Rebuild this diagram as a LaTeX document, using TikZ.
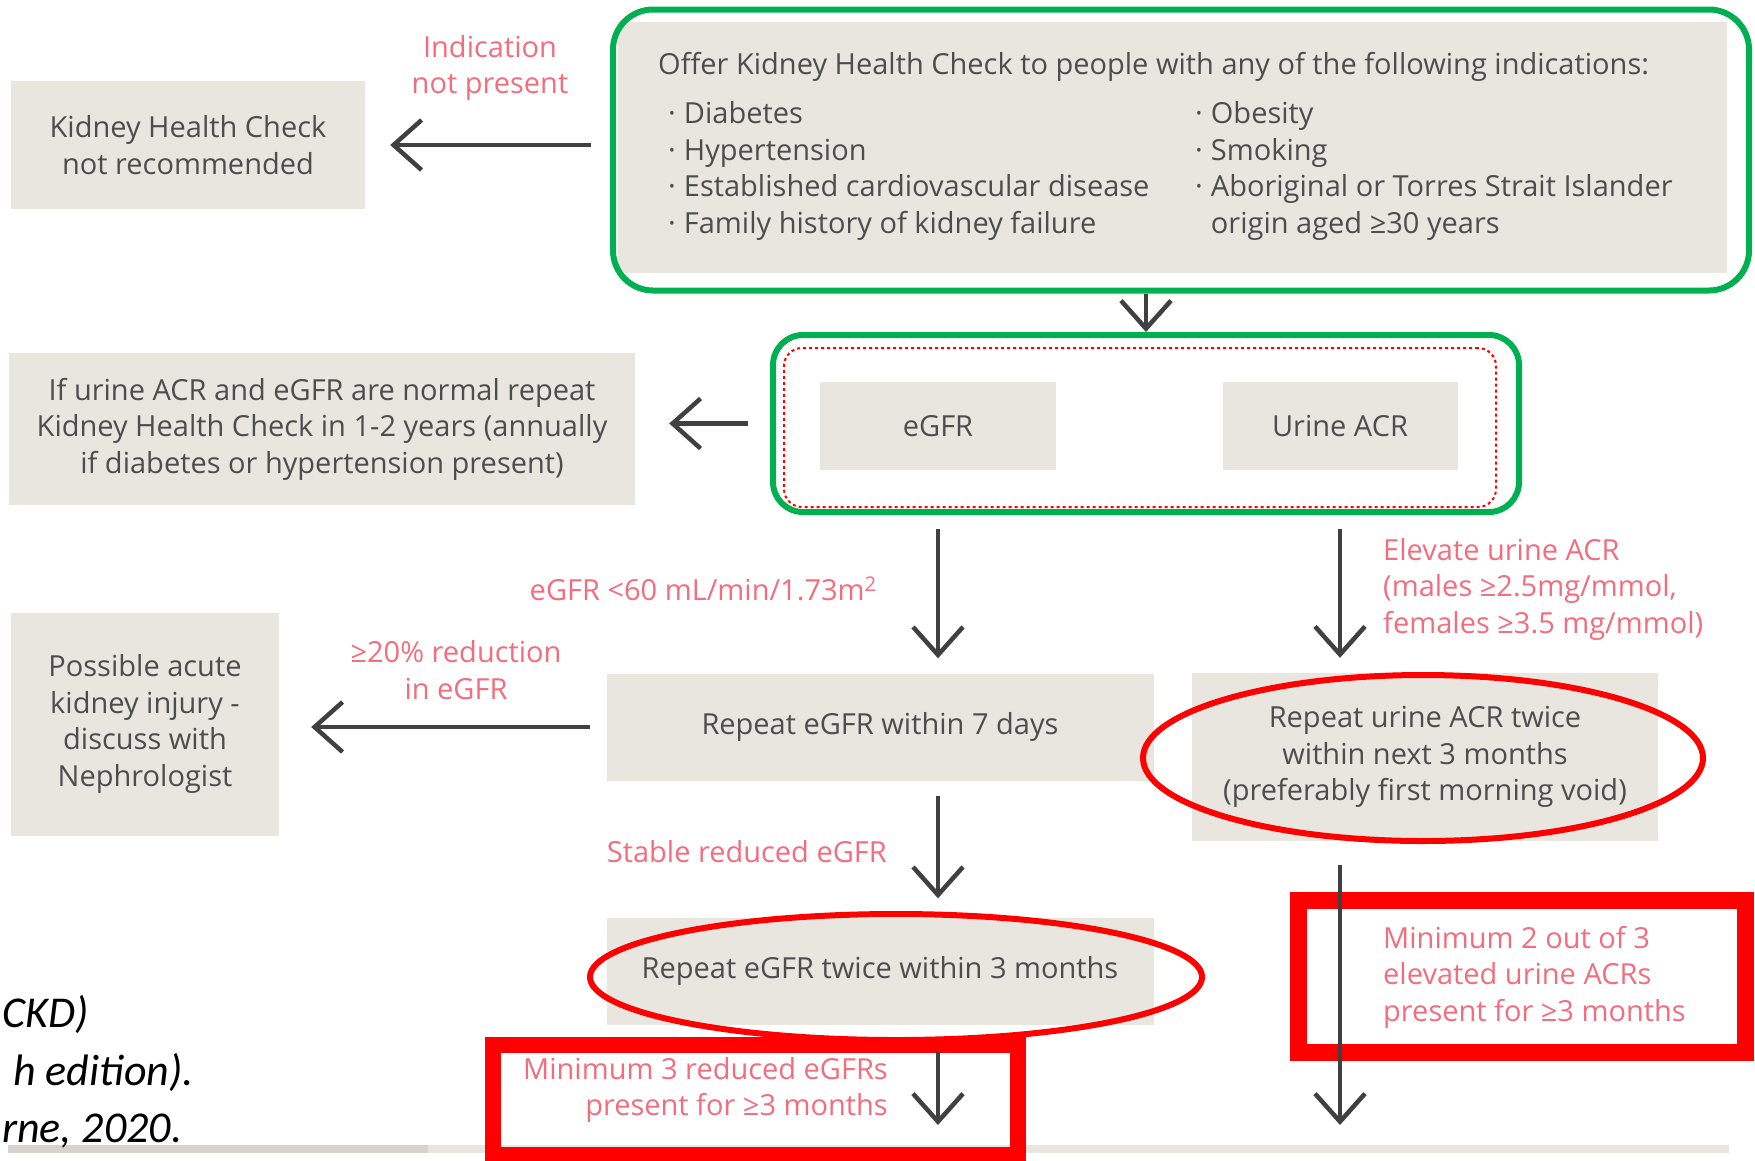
\documentclass[tikz,border=0pt]{standalone}
\usepackage{fontspec}
\setmainfont{Open Sans}
\newfontfamily\citefont{Carlito}
\usetikzlibrary{arrows.meta,shapes.geometric}
\definecolor{boxgrey}{HTML}{E9E6DF}
\definecolor{txtgrey}{HTML}{4D4D4D}
\definecolor{lblpink}{HTML}{F26D7D}
\definecolor{arrgrey}{HTML}{404040}
\definecolor{ringgreen}{HTML}{00B050}
\definecolor{stripgrey}{HTML}{D9D1CB}

\begin{document}
\begin{tikzpicture}[x=1pt,y=-1pt,
txt/.style={text=txtgrey,inner sep=0pt,font=\fontsize{29}{36.5}\selectfont},
box/.style={txt,fill=boxgrey,align=center},
lbl/.style={text=lblpink,inner sep=0pt,font=\fontsize{29}{36.5}\selectfont},
arr/.style={draw=arrgrey,line width=4.5pt,-{Straight Barb[length=28pt,width=50pt]}},
greenring/.style={draw=ringgreen,line width=6pt,rounded corners=40pt,inner sep=0pt},
redring/.style={ellipse,draw=red,line width=6pt,inner sep=0pt},
redframe/.style={draw=red,inner sep=0pt},
cite/.style={inner sep=0pt,font=\citefont\itshape\fontsize{44}{52}\selectfont}]
\useasboundingbox (0,0) rectangle (1755,1160);
\fill [stripgrey] (8,1145) rectangle (428,1153);
\fill [boxgrey] (428,1145) rectangle (1729,1153);
\node [box, minimum width=354, minimum height=128] (notrec) at (188,145) {Kidney Health Check\\not recommended};
\node [box, minimum width=1109, minimum height=251] (offer) at (1172,147) {};
\node [greenring, minimum width=1136, minimum height=281] (offerring) at (1181,150) {};
\node [txt, anchor=west] (offertitle) at (658,67) {Offer Kidney Health Check to people with any of the following indications:};
\node [txt, anchor=west] (offerleft) at (668,171) {\begin{tabular}{@{}l@{\hspace{8pt}}l@{}}
·&Diabetes\\
·&Hypertension\\
·&Established cardiovascular disease\\
·&Family history of kidney failure
\end{tabular}};
\node [txt, anchor=west] (offerright) at (1195,171) {\begin{tabular}{@{}l@{\hspace{8pt}}l@{}}
·&Obesity\\
·&Smoking\\
·&Aboriginal or Torres Strait Islander\\
&origin aged ≥30 years
\end{tabular}};
\node [lbl, align=center] (nolbl) at (490,68) {Indication\\not present};
\node [greenring, rounded corners=30pt, minimum width=746, minimum height=177] (testring) at (1146,423.5) {};
\node [draw=red, line width=2pt, dash pattern=on 3pt off 3pt, rounded corners=18pt, minimum width=712, minimum height=159] (testdots) at (1140,427.5) {};
\node [box, minimum width=236, minimum height=88] (egfr) at (938,426) {eGFR};
\node [box, minimum width=235, minimum height=88] (acr) at (1340,426) {Urine ACR};
\node [box, minimum width=626, minimum height=152] (normal) at (322,429) {If urine ACR and eGFR are normal repeat\\Kidney Health Check in 1-2 years (annually\\if diabetes or hypertension present)};
\node [box, minimum width=268, minimum height=223] (aki) at (145,724) {Possible acute\\kidney injury -\\discuss with\\Nephrologist};
\node [box, minimum width=547, minimum height=107] (rep7) at (880,727) {Repeat eGFR within 7 days};
\node [box, minimum width=466, minimum height=168] (repacr) at (1425,757) {Repeat urine ACR twice\\within next 3 months\\(preferably first morning void)};
\node [box, minimum width=547, minimum height=107] (rep3m) at (880,971) {Repeat eGFR twice within 3 months};
\node [redring, minimum width=560, minimum height=166] (repacrring) at (1423,758) {};
\node [redring, minimum width=612, minimum height=126] (rep3mring) at (896,977) {};
\node [redframe, line width=16pt, minimum width=525, minimum height=110] (min3frame) at (755.5,1100) {};
\node [redframe, line width=17pt, minimum width=447, minimum height=152] (min2frame) at (1521.5,976) {};
\node [lbl, anchor=east] (lowlbl) at (877,589) {eGFR <60 mL/min/1.73m\textsuperscript{2}};
\node [lbl, anchor=west, align=left] (acrlbl) at (1383,589) {Elevate urine ACR\\(males ≥2.5mg/mmol,\\females ≥3.5 mg/mmol)};
\node [lbl, align=center] (droplbl) at (456,670) {≥20\% reduction\\in eGFR};
\node [lbl, anchor=east] (stablelbl) at (887,852) {Stable reduced eGFR};
\node [lbl, anchor=east, align=right] (min3txt) at (888,1090) {Minimum 3 reduced eGFRs\\present for ≥3 months};
\node [lbl, anchor=west, align=left] (min2txt) at (1383,977) {Minimum 2 out of 3\\elevated urine ACRs\\present for ≥3 months};
\node [cite, anchor=base west] (cite1) at (2,1027) {CKD)};
\node [cite, anchor=base east] (cite2) at (194,1085) {h edition).};
\node [cite, anchor=base west] (cite3) at (2,1142) {rne, 2020.};
\coordinate (egfrend) at (938,1125);
\coordinate (acrend) at (1340,1125);
\draw [arr, shorten <=19pt, shorten >=25pt] (notrec.east -| offerring.west) -- (notrec.east);
\draw [arr] (offerring.south -| testring.north) -- (testring.north);
\draw [arr, shorten <=22pt, shorten >=34pt] (testring.west) -- (testring.west -| normal.east);
\draw [arr, shorten <=59pt, shorten >=15pt] (egfr.south) -- (egfr.south |- rep7.north);
\draw [arr, shorten <=59pt, shorten >=15pt] (acr.south) -- (acr.south |- repacr.north);
\draw [arr, shorten <=16pt, shorten >=32pt] (rep7.west) -- (rep7.west -| aki.east);
\draw [arr, shorten <=15pt, shorten >=19pt] (egfr |- rep7.south) -- (egfr |- rep3m.north);
\draw [arr, shorten <=27pt] (egfr |- rep3m.south) -- (egfrend);
\draw [arr, shorten <=24pt] (acr |- repacr.south) -- (acrend);
\end{tikzpicture}
\end{document}
